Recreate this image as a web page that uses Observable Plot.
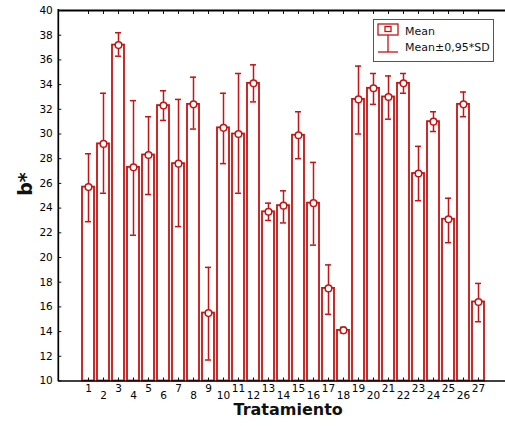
<!DOCTYPE html>
<html>
<head>
<meta charset="utf-8">
<script src="https://cdn.jsdelivr.net/npm/d3@7"></script>
<script src="https://cdn.jsdelivr.net/npm/@observablehq/plot@0.6"></script>
<style>
  html, body { margin: 0; padding: 0; background: #fff; }
  #chart { width: 505px; height: 426px; overflow: hidden; }
</style>
</head>
<body>
<div id="chart"></div>
<script>
// ---- data ----
const tratamiento = [1,2,3,4,5,6,7,8,9,10,11,12,13,14,15,16,17,18,19,20,21,22,23,24,25,26,27];
const meanValues  = [25.7, 29.2, 37.2, 27.3, 28.3, 32.3, 27.6, 32.4, 15.5, 30.5, 30.0, 34.1, 23.7, 24.2, 29.9, 24.4, 17.5, 14.1, 32.8, 33.7, 33.0, 34.1, 26.8, 31.0, 23.1, 32.4, 16.4];
const lowerValues = [22.9, 25.2, 36.3, 21.8, 25.1, 31.1, 22.5, 30.4, 11.7, 27.6, 25.2, 32.6, 23.0, 22.8, 28.0, 21.0, 15.4, 13.9, 30.0, 32.4, 31.2, 33.3, 24.6, 30.2, 21.2, 31.4, 14.8];
const upperValues = [28.4, 33.3, 38.2, 32.7, 31.4, 33.5, 32.8, 34.6, 19.2, 33.3, 34.9, 35.6, 24.4, 25.4, 31.8, 27.7, 19.4, 14.35, 35.5, 34.9, 34.7, 34.9, 29.0, 31.8, 24.8, 33.4, 17.9];
const yTicks = [10,12,14,16,18,20,22,24,26,28,30,32,34,36,38,40];
const legendLabels = ["Mean", "Mean\u00B10,95*SD"];
const xLabel = "Tratamiento";
const yLabel = "b*";

const data = tratamiento.map((t, i) => ({t, mean: meanValues[i], lo: lowerValues[i], hi: upperValues[i]}));
const oddT = tratamiento.filter(t => t % 2 === 1);
const evenT = tratamiento.filter(t => t % 2 === 0);

const RED = "#c41414";
const FONT = "DejaVu Sans, sans-serif";

const W = 505, H = 426, ML = 58.3, MT = 10, MB = 45.5;

// left frame line + legend (decoration drawn in pixel space)
function decorations(index, scales, values, dimensions) {
  const g = d3.create("svg:g");
  g.append("line").attr("x1", ML).attr("x2", ML).attr("y1", MT - 1).attr("y2", H - MB + 0.8)
    .attr("stroke", "#000").attr("stroke-width", 1.7);
  const lg = g.append("g").attr("text-anchor", "start");
  lg.append("rect").attr("x", 373.5).attr("y", 19.5).attr("width", 120).attr("height", 42)
    .attr("fill", "#fff").attr("stroke", "#555").attr("stroke-width", 1);
  // mean icon
  lg.append("rect").attr("x", 378).attr("y", 24).attr("width", 20).attr("height", 11)
    .attr("fill", "#fff").attr("stroke", RED).attr("stroke-width", 1.3);
  lg.append("rect").attr("x", 385).attr("y", 26.5).attr("width", 6).attr("height", 5)
    .attr("fill", "#fff").attr("stroke", RED).attr("stroke-width", 1.3);
  // error icon
  lg.append("line").attr("x1", 388).attr("x2", 388).attr("y1", 35).attr("y2", 52)
    .attr("stroke", RED).attr("stroke-width", 1.3);
  lg.append("line").attr("x1", 378).attr("x2", 398).attr("y1", 52).attr("y2", 52)
    .attr("stroke", RED).attr("stroke-width", 1.3);
  lg.append("text").attr("x", 405).attr("y", 35).attr("text-anchor", "start").text(legendLabels[0])
    .attr("font-size", 11).attr("font-family", FONT).attr("fill", "#111");
  lg.append("text").attr("x", 405).attr("y", 51).attr("text-anchor", "start").text(legendLabels[1])
    .attr("font-size", 11).attr("font-family", FONT).attr("fill", "#111");
  return g.node();
}

const chart = Plot.plot({
  width: W,
  height: H,
  marginLeft: ML,
  marginRight: 0,
  marginTop: MT,
  marginBottom: MB,
  style: {fontFamily: FONT, fontSize: "10.5px", color: "#111", background: "#fff"},
  x: {type: "band", domain: tratamiento, range: [ML, 507.7], paddingInner: 0.2, paddingOuter: 1.0, align: 0.5, label: null},
  y: {domain: [10, 40], label: null},
  marks: [
    Plot.barY(data, {x: "t", y1: 10, y2: "mean", fill: "#fff", stroke: RED, strokeWidth: 1.8}),
    Plot.ruleX(data, {x: "t", y1: "lo", y2: "hi", stroke: RED, strokeWidth: 1.5}),
    Plot.tickY(data, {x: "t", y: "hi", stroke: RED, strokeWidth: 1.5, insetLeft: 3, insetRight: 3}),
    Plot.tickY(data, {x: "t", y: "lo", stroke: RED, strokeWidth: 1.5, insetLeft: 3, insetRight: 3}),
    Plot.dot(data, {x: "t", y: "mean", r: 3.3, fill: "#fff", stroke: RED, strokeWidth: 1.5}),
    Plot.ruleY([40], {stroke: "#000", strokeWidth: 2}),
    Plot.ruleY([10], {stroke: "#000", strokeWidth: 1.6}),
    Plot.axisY(yTicks, {anchor: "left", tickSize: -3, tickPadding: 9, fill: "#000", fontSize: 10.5}),
    Plot.axisX(tratamiento, {anchor: "top", tickSize: -3, tickFormat: () => ""}),
    Plot.axisX(tratamiento, {anchor: "bottom", tickSize: -3, tickFormat: () => ""}),
    Plot.axisX(oddT, {anchor: "bottom", tickSize: 0, tickPadding: 4, fill: "#000", fontSize: 10.5}),
    Plot.axisX(evenT, {anchor: "bottom", tickSize: 0, tickPadding: 10.5, fill: "#000", fontSize: 10.5}),
    Plot.text([xLabel], {frameAnchor: "bottom", dx: 6, dy: 34, fontSize: 16, fontWeight: "bold", fill: "#111"}),
    Plot.text([yLabel], {frameAnchor: "left", dx: -33, rotate: -90, fontSize: 19, fontWeight: "bold", fill: "#111"}),
    decorations
  ]
});
document.getElementById("chart").appendChild(chart);
</script>
</body>
</html>
